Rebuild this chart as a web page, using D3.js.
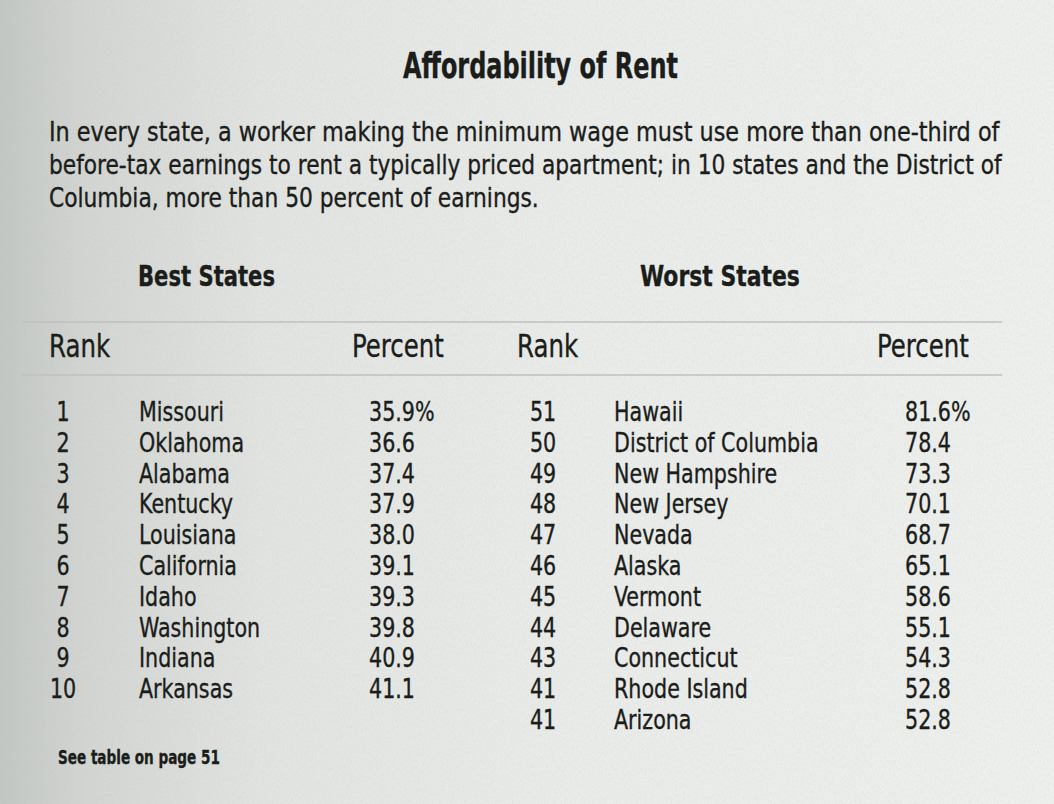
<!DOCTYPE html>
<html>
<head>
<meta charset="utf-8">
<script src="https://cdn.jsdelivr.net/npm/d3@7"></script>
<style>
  body { margin: 0; background: #ebedea; }
  svg { display: block; }
  .cond { font-family: "Liberation Sans Narrow", "DejaVu Sans Condensed", "Liberation Sans", sans-serif; fill: #1b1d1b; stroke: #1b1d1b; stroke-width: 0.35px; }
</style>
</head>
<body>
<svg id="chart"></svg>
<script>
// Table content
const title = 'Affordability of Rent';
const introLines = [
  'In every state, a worker making the minimum wage must use more than one-third of',
  'before-tax earnings to rent a typically priced apartment; in 10 states and the District of',
  'Columbia, more than 50 percent of earnings.'
];
const groupTitles = ['Best States', 'Worst States'];
const columnHeads = ['Rank', 'Percent'];

const bestRanks = [1, 2, 3, 4, 5, 6, 7, 8, 9, 10];
const bestStates = ['Missouri', 'Oklahoma', 'Alabama', 'Kentucky', 'Louisiana',
  'California', 'Idaho', 'Washington', 'Indiana', 'Arkansas'];
const bestPercents = [35.9, 36.6, 37.4, 37.9, 38.0, 39.1, 39.3, 39.8, 40.9, 41.1];

const worstRanks = [51, 50, 49, 48, 47, 46, 45, 44, 43, 41, 41];
const worstStates = ['Hawaii', 'District of Columbia', 'New Hampshire', 'New Jersey', 'Nevada',
  'Alaska', 'Vermont', 'Delaware', 'Connecticut', 'Rhode Island', 'Arizona'];
const worstPercents = [81.6, 78.4, 73.3, 70.1, 68.7, 65.1, 58.6, 55.1, 54.3, 52.8, 52.8];

const footnote = 'See table on page 51';

const W = 1054, H = 804;
const squeeze = 0.85; // the print face is narrower than the installed one

const svg = d3.select('#chart')
    .attr('width', W)
    .attr('height', H);

// Paper background: darker at the left edge like the scan
const defs = svg.append('defs');
const grad = defs.append('linearGradient').attr('id', 'paper');
[[0, '#c3c7c3'], [0.08, '#d2d5d1'], [0.25, '#e2e4e1'], [0.55, '#eaecea'], [1, '#eef0ed']]
  .forEach(([o, c]) => grad.append('stop').attr('offset', o).attr('stop-color', c));

const grain = defs.append('filter').attr('id', 'grain')
    .attr('x', 0).attr('y', 0).attr('width', '100%').attr('height', '100%');
grain.append('feTurbulence')
    .attr('type', 'fractalNoise')
    .attr('baseFrequency', '0.9 0.35')
    .attr('numOctaves', 2)
    .attr('seed', 3);
grain.append('feColorMatrix')
    .attr('values', '0 0 0 0 0.45  0 0 0 0 0.47  0 0 0 0 0.45  0 0 0 -0.9 0.55');

svg.append('rect').attr('width', W).attr('height', H).attr('fill', 'url(#paper)');
svg.append('rect').attr('width', W).attr('height', H)
    .attr('filter', 'url(#grain)').attr('opacity', 0.35);

// Place a text at (x, y) and squeeze it to a target width (or a fixed factor)
function place(sel, x, y, width) {
  sel.each(function(d, i) {
    const node = d3.select(this);
    const tx = typeof x === 'function' ? x(d, i) : x;
    const ty = typeof y === 'function' ? y(d, i) : y;
    const tw = typeof width === 'function' ? width(d, i) : width;
    const k = tw ? tw / this.getComputedTextLength() : squeeze;
    node.attr('transform', `translate(${tx},${ty}) scale(${k},1)`);
  });
  return sel;
}

// Title
svg.append('text')
    .attr('class', 'cond')
    .style('font-size', '35px')
    .style('font-weight', 'bold')
    .text(title)
    .call(place, 403, 78, 275);

// Intro paragraph
const introWidths = [951, 953, 490];
svg.append('g')
  .selectAll('text')
  .data(introLines)
  .join('text')
    .attr('class', 'cond')
    .style('font-size', '27px')
    .text(d => d)
    .call(place, 49, (d, i) => 141 + i * 33, (d, i) => introWidths[i]);

// Group titles
svg.append('g')
  .selectAll('text')
  .data(groupTitles)
  .join('text')
    .attr('class', 'cond')
    .style('font-size', '29px')
    .style('font-weight', 'bold')
    .text(d => d)
    .call(place, (d, i) => [138, 640][i], 286, (d, i) => [137, 160][i]);

// Rules above and below the column heads
svg.append('g')
  .selectAll('line')
  .data([322, 375])
  .join('line')
    .attr('x1', 22).attr('x2', 1002)
    .attr('y1', d => d).attr('y2', d => d)
    .attr('stroke', '#bfc1be')
    .attr('stroke-width', 1.5);

// Column heads
const heads = [
  {text: columnHeads[0], x: 49},
  {text: columnHeads[1], x: 352},
  {text: columnHeads[0], x: 517},
  {text: columnHeads[1], x: 877}
];
svg.append('g')
  .selectAll('text')
  .data(heads)
  .join('text')
    .attr('class', 'cond')
    .style('font-size', '32px')
    .text(d => d.text)
    .call(place, d => d.x, 357);

// Row positions
const nRows = Math.max(bestRanks.length, worstRanks.length);
const yRow = d3.scalePoint()
    .domain(d3.range(nRows))
    .range([421, 729]);

const fmtPct = (v, i) => d3.format('.1f')(v) + (i === 0 ? '%' : '');

function drawTable(ranks, states, percents, cols) {
  const rows = ranks.map((r, i) => ({rank: r, state: states[i], pct: fmtPct(percents[i], i), i}));
  const g = svg.append('g');
  const cells = [
    {key: 'rank', x: cols.rank, anchor: 'middle'},
    {key: 'state', x: cols.state, anchor: 'start'},
    {key: 'pct', x: cols.pct, anchor: 'start'}
  ];
  cells.forEach(c => {
    g.append('g')
      .selectAll('text')
      .data(rows)
      .join('text')
        .attr('class', 'cond')
        .attr('text-anchor', c.anchor)
        .style('font-size', '27px')
        .text(d => d[c.key])
        .call(place, c.x, d => yRow(d.i));
  });
}

drawTable(bestRanks, bestStates, bestPercents, {rank: 63, state: 139, pct: 369});
drawTable(worstRanks, worstStates, worstPercents, {rank: 543, state: 614, pct: 905});

// Footnote
svg.append('text')
    .attr('class', 'cond')
    .style('font-size', '19px')
    .style('font-weight', 'bold')
    .text(footnote)
    .call(place, 58, 764, 162);
</script>
</body>
</html>
